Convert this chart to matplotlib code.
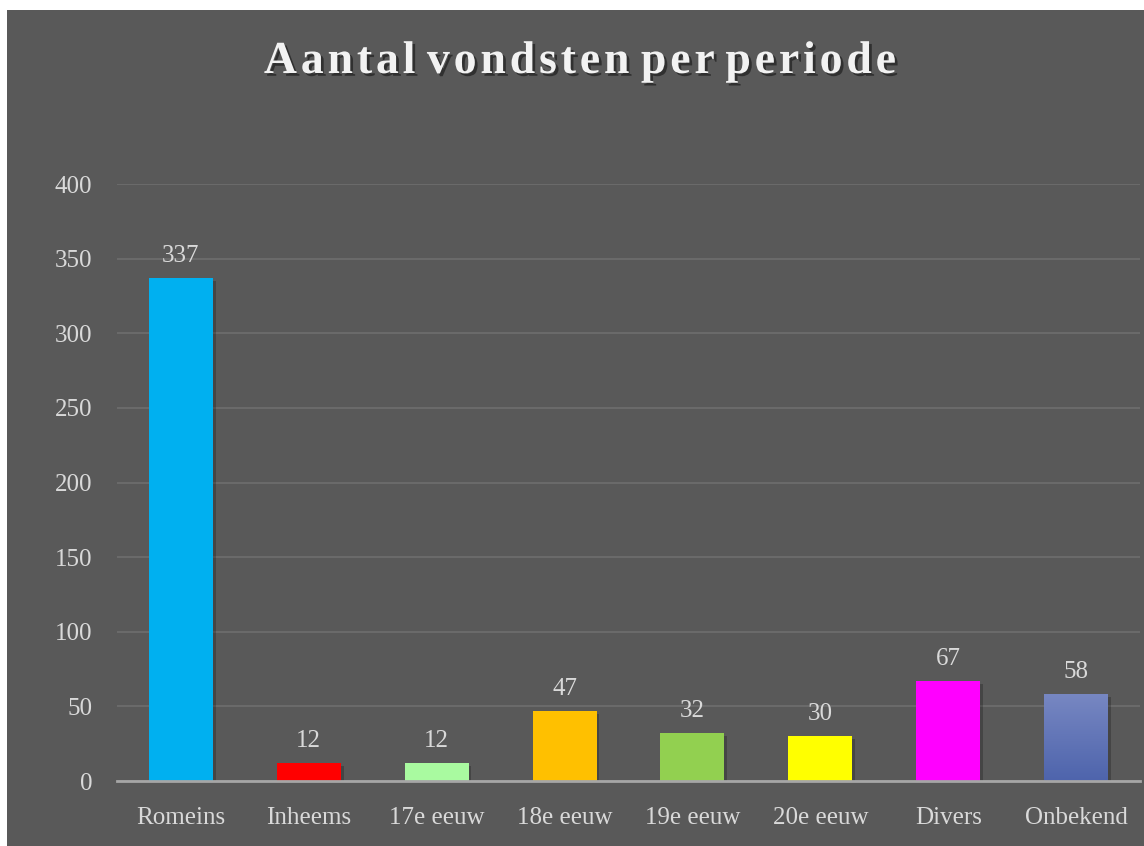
import matplotlib
matplotlib.use("Agg")
import matplotlib.pyplot as plt
import matplotlib.patheffects as pe
from matplotlib.patches import Rectangle
import numpy as np

categories = ["Romeins", "Inheems", "17e eeuw", "18e eeuw", "19e eeuw", "20e eeuw", "Divers", "Onbekend"]
values = [337, 12, 12, 47, 32, 30, 67, 58]
colors = ["#00B0F0", "#FF0000", "#A9FAA0", "#FFC000", "#92D050", "#FFFF00", "#FF00FF", "#5C72B6"]
yticks = [0, 50, 100, 150, 200, 250, 300, 350, 400]
title = "Aantal vondsten per periode"

bg = "#595959"
txt = "#D9D9D9"
font = "Liberation Serif"

fig = plt.figure(figsize=(11.44, 8.46), dpi=100)
fig.patch.set_facecolor("white")
fig.patches.append(Rectangle((7 / 1144, 0), 1 - 7 / 1144, 1 - 10 / 846,
                             transform=fig.transFigure, facecolor=bg, edgecolor="none", zorder=-1))

ax = fig.add_axes([117 / 1144, 1 - 781 / 846, (1140 - 117) / 1144, (781 - 184) / 846])
ax.set_facecolor("none")
x = np.arange(len(categories))
shadow = [pe.SimplePatchShadow(offset=(2, -2), shadow_rgbFace="black", alpha=0.22), pe.Normal()]
bars = ax.bar(x, values, width=0.5, color=colors, zorder=3)
for b in bars:
    b.set_path_effects(shadow)

# gradient for the last bar
last = bars[-1]
grad = np.linspace(0, 1, 256).reshape(-1, 1)
cmap = matplotlib.colors.LinearSegmentedColormap.from_list("g", ["#4E64AC", "#7787C2"])
im = ax.imshow(grad, cmap=cmap, origin="lower", aspect="auto", zorder=4,
               extent=[last.get_x(), last.get_x() + last.get_width(), 0, last.get_height()])
im.set_clip_path(last)

ax.set_xlim(-0.5, len(categories) - 0.5)
ax.set_ylim(0, 400)
ax.set_yticks(yticks)
ax.set_xticks(x)
ax.set_xticklabels(categories)
ax.grid(axis="y", color="#6E6E6E", linewidth=1.2, zorder=0)
ax.set_axisbelow(True)
for s in ["top", "right", "left"]:
    ax.spines[s].set_visible(False)
ax.spines["bottom"].set_color("#A6A6A6")
ax.spines["bottom"].set_linewidth(2)
ax.spines["bottom"].set_zorder(5)
ax.tick_params(axis="both", length=0, colors=txt, labelsize=18)
ax.tick_params(axis="x", pad=19)
ax.tick_params(axis="y", pad=18)
for lab in ax.get_xticklabels() + ax.get_yticklabels():
    lab.set_fontfamily(font)
    lab.set_color(txt)

for xi, v in zip(x, values):
    ax.annotate(str(v), (xi, v), xytext=(0, 8), textcoords="offset points",
                ha="center", va="bottom", color=txt, fontsize=18, family=font)

# letter-spaced title
spaced = " ".join("\u200a".join(w) for w in title.split(" "))
fig.text(0.508, 1 - 62 / 846, spaced,
         ha="center", va="center", color="#F2F2F2", fontsize=33, fontweight="bold", family=font,
         path_effects=[pe.SimplePatchShadow(offset=(2, -2), shadow_rgbFace="black", alpha=0.45), pe.Normal()])

fig.savefig("out.png", dpi=100, facecolor=fig.get_facecolor())
